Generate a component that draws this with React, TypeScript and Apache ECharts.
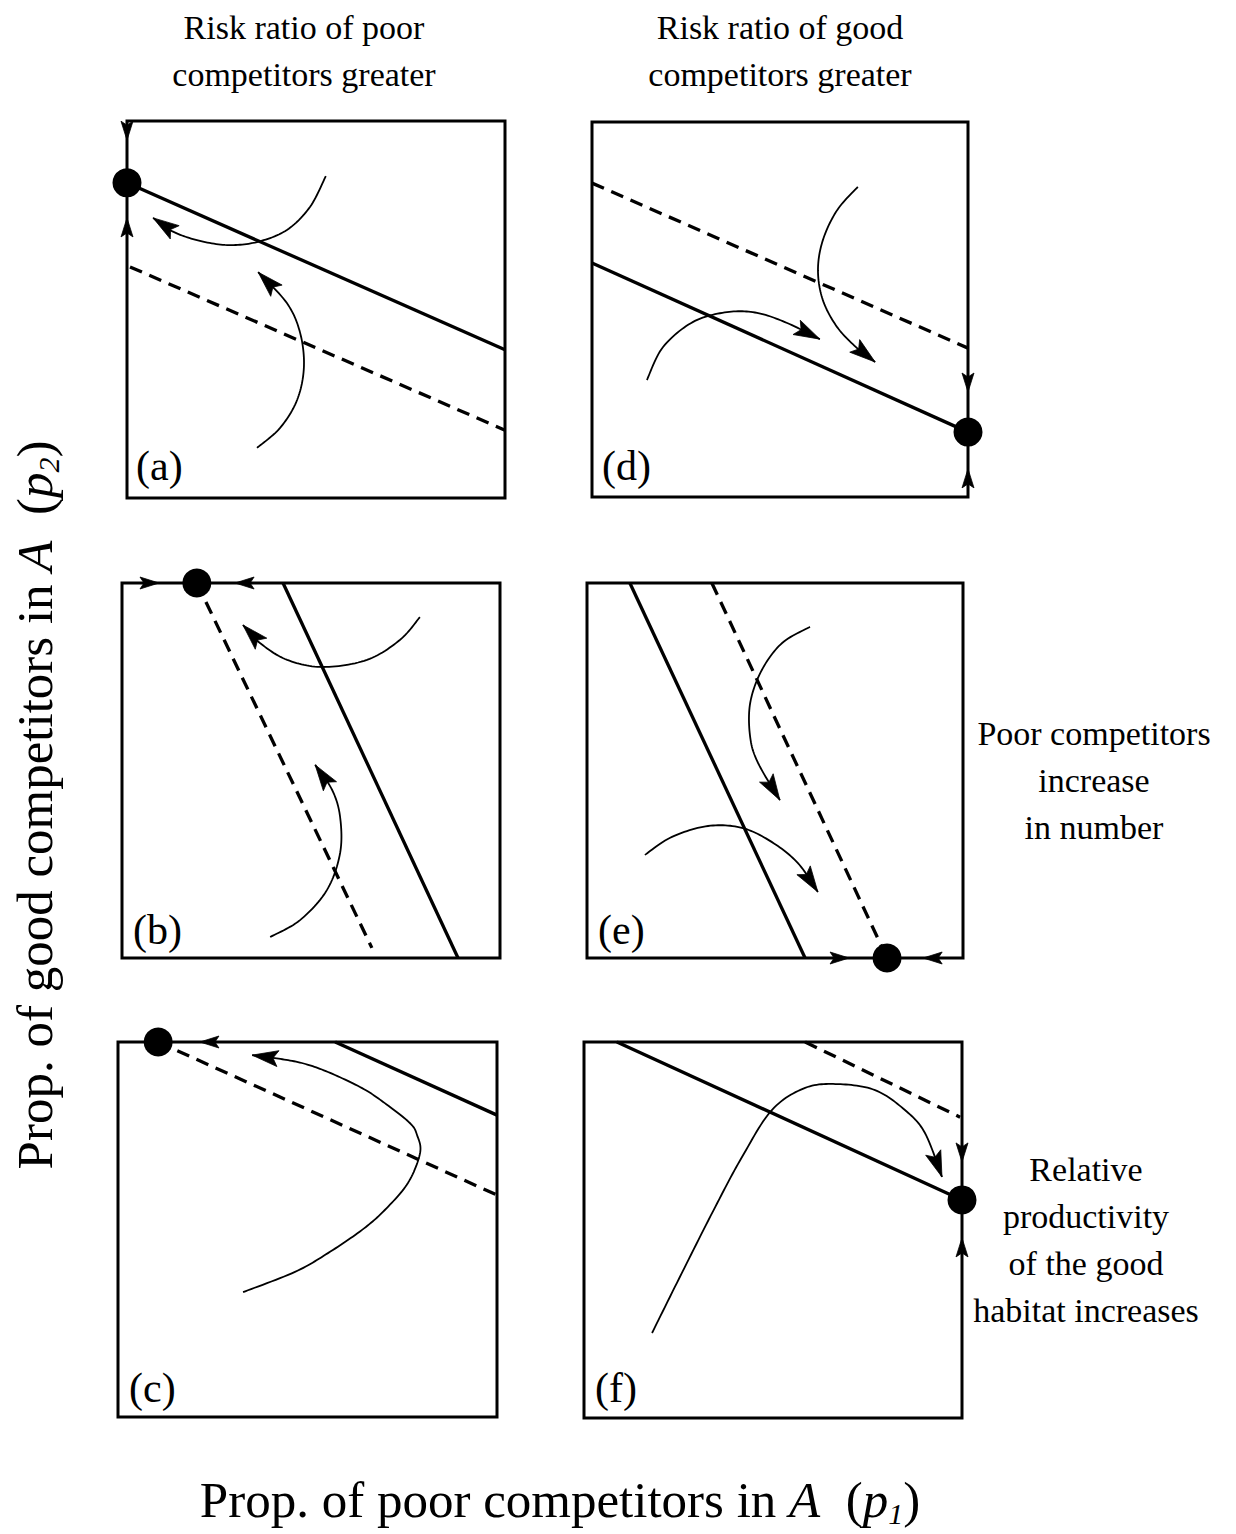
import React, { useEffect, useRef } from "react";
import * as echarts from "echarts";

type Pt = [number, number];
type Dir = "up" | "down" | "left" | "right";
type EdgeArrow = { at: Pt; dir: Dir };

// ---------------- Panel (a)
const aSolidLine: Pt[] = [[0, 0.836], [1, 0.393]];
const aDashedLine: Pt[] = [[0.008, 0.613], [1, 0.18]];
const aEquilibria: Pt[] = [[0, 0.836]];
const aEdgeArrows: EdgeArrow[] = [
  { at: [0, 0.973], dir: "down" },
  { at: [0, 0.719], dir: "up" },
];
const aTrajectories: Pt[][] = [
  [[0.526, 0.854], [0.484, 0.772], [0.423, 0.711], [0.344, 0.679], [0.265, 0.671], [0.185, 0.684], [0.119, 0.708], [0.069, 0.743]],
  [[0.344, 0.133], [0.405, 0.186], [0.45, 0.26], [0.468, 0.347], [0.458, 0.438], [0.423, 0.517], [0.347, 0.599]],
];

// ---------------- Panel (d)
const dSolidLine: Pt[] = [[0, 0.624], [1, 0.173]];
const dDashedLine: Pt[] = [[0, 0.837], [1, 0.397]];
const dEquilibria: Pt[] = [[1, 0.173]];
const dEdgeArrows: EdgeArrow[] = [
  { at: [1, 0.304], dir: "down" },
  { at: [1, 0.051], dir: "up" },
];
const dTrajectories: Pt[][] = [
  [[0.707, 0.827], [0.652, 0.765], [0.614, 0.685], [0.601, 0.605], [0.614, 0.525], [0.652, 0.453], [0.705, 0.397], [0.753, 0.36]],
  [[0.146, 0.312], [0.189, 0.4], [0.269, 0.467], [0.359, 0.493], [0.439, 0.491], [0.519, 0.464], [0.606, 0.421]],
];

// ---------------- Panel (b)
const bSolidLine: Pt[] = [[0.426, 1], [0.889, 0]];
const bDashedLine: Pt[] = [[0.198, 1], [0.661, 0.027]];
const bEquilibria: Pt[] = [[0.198, 1]];
const bEdgeArrows: EdgeArrow[] = [
  { at: [0.074, 1], dir: "right" },
  { at: [0.323, 1], dir: "left" },
];
const bTrajectories: Pt[][] = [
  [[0.788, 0.909], [0.735, 0.848], [0.648, 0.795], [0.532, 0.776], [0.437, 0.795], [0.365, 0.84], [0.32, 0.888]],
  [[0.392, 0.056], [0.471, 0.101], [0.542, 0.181], [0.577, 0.28], [0.577, 0.376], [0.556, 0.448], [0.511, 0.515]],
];

// ---------------- Panel (e)
const eSolidLine: Pt[] = [[0.114, 1], [0.58, 0]];
const eDashedLine: Pt[] = [[0.332, 1], [0.798, 0]];
const eEquilibria: Pt[] = [[0.798, 0]];
const eEdgeArrows: EdgeArrow[] = [
  { at: [0.673, 0], dir: "right" },
  { at: [0.918, 0], dir: "left" },
];
const eTrajectories: Pt[][] = [
  [[0.593, 0.883], [0.519, 0.84], [0.465, 0.768], [0.434, 0.68], [0.434, 0.589], [0.455, 0.52], [0.513, 0.421]],
  [[0.154, 0.275], [0.226, 0.323], [0.322, 0.352], [0.412, 0.347], [0.492, 0.309], [0.561, 0.253], [0.614, 0.176]],
];

// ---------------- Panel (c)
const cSolidLine: Pt[] = [[0.573, 1], [1, 0.805]];
const cDashedLine: Pt[] = [[0.106, 1], [1, 0.592]];
const cEquilibria: Pt[] = [[0.106, 1]];
const cEdgeArrows: EdgeArrow[] = [{ at: [0.24, 1], dir: "left" }];
const cTrajectories: Pt[][] = [
  [
    [0.33, 0.333], [0.467, 0.387], [0.554, 0.437], [0.644, 0.499], [0.704, 0.552], [0.765, 0.624],
    [0.797, 0.704], [0.789, 0.752], [0.77, 0.784], [0.704, 0.837], [0.644, 0.877], [0.554, 0.92],
    [0.485, 0.944], [0.414, 0.957], [0.354, 0.965],
  ],
];

// ---------------- Panel (f)
const fSolidLine: Pt[] = [[0.087, 1], [1, 0.58]];
const fDashedLine: Pt[] = [[0.585, 1], [0.995, 0.8]];
const fEquilibria: Pt[] = [[1, 0.58]];
const fEdgeArrows: EdgeArrow[] = [
  { at: [1, 0.705], dir: "down" },
  { at: [1, 0.455], dir: "up" },
];
const fTrajectories: Pt[][] = [
  [
    [0.18, 0.226], [0.259, 0.386], [0.347, 0.561], [0.418, 0.694], [0.497, 0.819], [0.585, 0.878],
    [0.672, 0.888], [0.77, 0.872], [0.849, 0.819], [0.902, 0.758], [0.947, 0.641],
  ],
];

const panelLabels = ["(a)", "(d)", "(b)", "(e)", "(c)", "(f)"];
const columnTitles = ["Risk ratio of poor\ncompetitors greater", "Risk ratio of good\ncompetitors greater"];
const rowNotes = ["Poor competitors\nincrease\nin number", "Relative\nproductivity\nof the good\nhabitat increases"];

// ---------------- Layout (pixels)
const boxes = [
  { left: 127, top: 121, width: 378, height: 377 },
  { left: 592, top: 122, width: 376, height: 375 },
  { left: 122, top: 583, width: 378, height: 375 },
  { left: 587, top: 583, width: 376, height: 375 },
  { left: 118, top: 1042, width: 379, height: 375 },
  { left: 584, top: 1042, width: 378, height: 376 },
];
const labelPos: Pt[] = [[136, 466], [602, 466], [133, 930], [598, 930], [129, 1388], [595, 1388]];

const panels = [
  { solid: aSolidLine, dashed: aDashedLine, eq: aEquilibria, edge: aEdgeArrows, traj: aTrajectories },
  { solid: dSolidLine, dashed: dDashedLine, eq: dEquilibria, edge: dEdgeArrows, traj: dTrajectories },
  { solid: bSolidLine, dashed: bDashedLine, eq: bEquilibria, edge: bEdgeArrows, traj: bTrajectories },
  { solid: eSolidLine, dashed: eDashedLine, eq: eEquilibria, edge: eEdgeArrows, traj: eTrajectories },
  { solid: cSolidLine, dashed: cDashedLine, eq: cEquilibria, edge: cEdgeArrows, traj: cTrajectories },
  { solid: fSolidLine, dashed: fDashedLine, eq: fEquilibria, edge: fEdgeArrows, traj: fTrajectories },
];

const FONT = '"Liberation Serif", "Times New Roman", serif';

function head(tip: number[], ux: number, uy: number, L: number, W: number, notch: number) {
  const nx = -uy;
  const ny = ux;
  const bx = tip[0] - ux * L;
  const by = tip[1] - uy * L;
  return [
    [tip[0], tip[1]],
    [bx + nx * W, by + ny * W],
    [tip[0] - ux * notch, tip[1] - uy * notch],
    [bx - nx * W, by - ny * W],
  ];
}

// Catmull-Rom sampling of pixel points (rendering helper)
function spline(pts: number[][], steps = 14): number[][] {
  const out: number[][] = [];
  const n = pts.length;
  for (let i = 0; i < n - 1; i++) {
    const p0 = pts[Math.max(0, i - 1)];
    const p1 = pts[i];
    const p2 = pts[i + 1];
    const p3 = pts[Math.min(n - 1, i + 2)];
    for (let s = 0; s < steps; s++) {
      const t = s / steps;
      const t2 = t * t;
      const t3 = t2 * t;
      const f = (a: number, b: number, c: number, d: number) =>
        0.5 * (2 * b + (-a + c) * t + (2 * a - 5 * b + 4 * c - d) * t2 + (-a + 3 * b - 3 * c + d) * t3);
      out.push([f(p0[0], p1[0], p2[0], p3[0]), f(p0[1], p1[1], p2[1], p3[1])]);
    }
  }
  out.push(pts[n - 1]);
  return out;
}

const dirVec: Record<Dir, [number, number]> = {
  up: [0, -1],
  down: [0, 1],
  left: [-1, 0],
  right: [1, 0],
};

function buildOption() {
  const grid: any[] = [];
  const xAxis: any[] = [];
  const yAxis: any[] = [];
  const series: any[] = [];
  panels.forEach((p, i) => {
    grid.push({
      ...boxes[i],
      show: true,
      borderColor: "#000",
      borderWidth: 3,
      backgroundColor: "transparent",
    });
    xAxis.push({ gridIndex: i, type: "value", min: 0, max: 1, show: false });
    yAxis.push({ gridIndex: i, type: "value", min: 0, max: 1, show: false });
    series.push({
      type: "line",
      xAxisIndex: i,
      yAxisIndex: i,
      data: p.solid,
      symbol: "none",
      clip: false,
      silent: true,
      lineStyle: { color: "#000", width: 3.3 },
    });
    series.push({
      type: "line",
      xAxisIndex: i,
      yAxisIndex: i,
      data: p.dashed,
      symbol: "none",
      clip: false,
      silent: true,
      lineStyle: { color: "#000", width: 3.3, type: [13, 8] },
    });
    series.push({
      type: "custom",
      xAxisIndex: i,
      yAxisIndex: i,
      coordinateSystem: "cartesian2d",
      clip: false,
      silent: true,
      data: p.traj.map((c) => c[0]),
      renderItem: (params: any, api: any) => {
        const raw = p.traj[params.dataIndex].map((q) => api.coord(q));
        const pts = spline(raw);
        const tip = pts[pts.length - 1];
        const HL = 26;
        let back = pts[0];
        for (let k = pts.length - 2; k >= 0; k--) {
          if (Math.hypot(tip[0] - pts[k][0], tip[1] - pts[k][1]) >= HL) {
            back = pts[k];
            break;
          }
        }
        const dx = tip[0] - back[0];
        const dy = tip[1] - back[1];
        const len = Math.hypot(dx, dy) || 1;
        return {
          type: "group",
          children: [
            {
              type: "polyline",
              shape: { points: pts },
              style: { stroke: "#000", lineWidth: 1.8, fill: "none" },
            },
            {
              type: "polygon",
              shape: { points: head(tip, dx / len, dy / len, HL, 8, 21) },
              style: { fill: "#000", stroke: "#000", lineWidth: 0.8 },
            },
          ],
        };
      },
    });
    series.push({
      type: "custom",
      xAxisIndex: i,
      yAxisIndex: i,
      coordinateSystem: "cartesian2d",
      clip: false,
      silent: true,
      data: p.edge.map((e) => e.at),
      renderItem: (params: any, api: any) => {
        const e = p.edge[params.dataIndex];
        const c = api.coord(e.at);
        const [ux, uy] = dirVec[e.dir];
        const tip = [c[0] + ux * 9, c[1] + uy * 9];
        return {
          type: "polygon",
          shape: { points: head(tip, ux, uy, 19, 6, 15) },
          style: { fill: "#000", stroke: "#000", lineWidth: 0.8 },
        };
      },
    });
    series.push({
      type: "scatter",
      xAxisIndex: i,
      yAxisIndex: i,
      data: p.eq,
      symbol: "circle",
      symbolSize: 29,
      clip: false,
      silent: true,
      itemStyle: { color: "#000", opacity: 1 },
      z: 5,
    });
  });

  const graphic: any[] = [];
  panelLabels.forEach((t, i) => {
    graphic.push({
      type: "text",
      x: labelPos[i][0],
      y: labelPos[i][1],
      style: {
        text: t,
        font: `42px ${FONT}`,
        fill: "#000",
        align: "left",
        textAlign: "left",
        verticalAlign: "middle",
        textVerticalAlign: "middle",
      },
    });
  });
  const titleX = [304, 780];
  columnTitles.forEach((t, i) => {
    graphic.push({
      type: "text",
      x: titleX[i],
      y: 51,
      style: {
        text: t,
        font: `34px ${FONT}`,
        lineHeight: 47,
        fill: "#000",
        align: "center",
        textAlign: "center",
        verticalAlign: "middle",
        textVerticalAlign: "middle",
      },
    });
  });
  const noteX = [1094, 1086];
  const noteY = [780, 1240];
  rowNotes.forEach((t, i) => {
    graphic.push({
      type: "text",
      x: noteX[i],
      y: noteY[i],
      style: {
        text: t,
        font: `34px ${FONT}`,
        lineHeight: 47,
        fill: "#000",
        align: "center",
        textAlign: "center",
        verticalAlign: "middle",
        textVerticalAlign: "middle",
      },
    });
  });
  const rich = {
    n: { font: `51px ${FONT}`, lineHeight: 56 },
    i: { font: `italic 51px ${FONT}`, lineHeight: 56 },
    s: { font: `italic 30px ${FONT}`, lineHeight: 24, verticalAlign: "bottom" },
  };
  graphic.push({
    type: "text",
    x: 560,
    y: 1500,
    style: {
      text: "{n|Prop. of poor competitors in }{i|A}{n|  (}{i|p}{s|1}{n|)}",
      rich,
      fill: "#000",
      align: "center",
      textAlign: "center",
      verticalAlign: "middle",
      textVerticalAlign: "middle",
    },
  });
  graphic.push({
    type: "text",
    x: 35,
    y: 805,
    rotation: Math.PI / 2,
    style: {
      text: "{n|Prop. of good competitors in }{i|A}{n|  (}{i|p}{s|2}{n|)}",
      rich,
      fill: "#000",
      align: "center",
      textAlign: "center",
      verticalAlign: "middle",
      textVerticalAlign: "middle",
    },
  });

  return {
    animation: false,
    backgroundColor: "#fff",
    grid,
    xAxis,
    yAxis,
    series,
    graphic,
  };
}

export default function App() {
  const ref = useRef<HTMLDivElement>(null);
  useEffect(() => {
    if (!ref.current) return;
    const chart = echarts.init(ref.current, undefined, { renderer: "svg" });
    chart.setOption(buildOption() as any);
    return () => chart.dispose();
  }, []);
  return (
    <div
      ref={ref}
      style={{ position: "absolute", left: 0, top: 0, width: 1236, height: 1534, background: "#fff" }}
    />
  );
}
